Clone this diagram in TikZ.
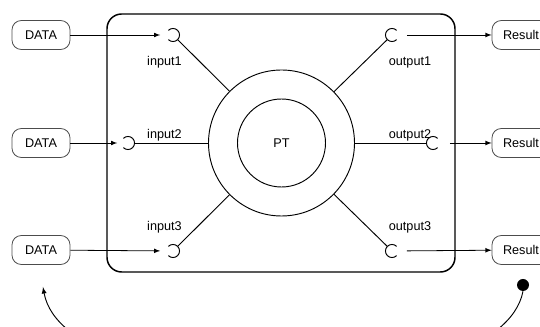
\documentclass[tikz,border=0pt]{standalone}
\usepackage{fontspec}
\setmainfont{Liberation Sans}
\usetikzlibrary{shapes,arrows,positioning}

\begin{document}
\begin{tikzpicture}[x=0.75pt, y=-0.75pt, >=latex, font=\fontsize{9.5}{11}\selectfont,
	box/.style={rectangle, rounded corners=7pt, draw=black!70, line width=0.6pt, minimum width=43.5pt, minimum height=21.75pt, inner sep=0pt},
	socket/.style={circle, minimum size=9.8pt, inner sep=0pt},
	feed/.style={->, line width=0.6pt, shorten >=4.5pt},
	spoke/.style={line width=0.7pt},
	plug/.style={line width=0.7pt}]
	\useasboundingbox (0,0) rectangle (540,327);
	% frame
	\draw[line width=1.1pt, rounded corners=11pt] (107,14) rectangle (455,272);
	\node[circle, draw, line width=0.7pt, minimum size=109.5pt] (ring) at (281.5,143) {};
	\node[circle, draw, line width=0.7pt, minimum size=66pt] (pt) at (281.5,143) {PT};
	
	\node[box] (d1) at (41,35)  {DATA};
	\node[box] (d2) at (41,143) {DATA};
	\node[box] (d3) at (41,250) {DATA};
	\node[box] (r1) at (521,35)  {Result};
	\node[box] (r2) at (521,143) {Result};
	\node[box] (r3) at (521,250) {Result};
	
	\node[socket] (in1) at (173,35)  {};
	\node[socket] (in2) at (128,143) {};
	\node[socket] (in3) at (173,251) {};
	\node[socket] (out1) at (392,35)  {};
	\node[socket] (out2) at (433,143) {};
	\node[socket] (out3) at (392,251) {};
	
	\node (lin1) at (164.5,62)  {input1};
	\node (lin2) at (164.5,135) {input2};
	\node (lin3) at (164.5,227) {input3};
	\node (lout1) at (410,62)  {output1};
	\node (lout2) at (410,135) {output2};
	\node (lout3) at (410,227) {output3};
	
	\foreach \s in {in1,in2,in3}
		\draw[plug] ([shift={(135:4.9pt)}]\s.center) arc[start angle=135, end angle=-135, radius=4.9pt];
	\foreach \s in {out1,out2,out3}
		\draw[plug] ([shift={(45:4.9pt)}]\s.center) arc[start angle=45, end angle=315, radius=4.9pt];
	
	\foreach \s in {in1,in2,in3,out1,out2,out3}
		\draw[spoke] (\s) -- (ring);
	
	\draw[feed] (d1) -- (in1);
	\draw[feed, shorten >=3pt] (d2) -- (in2);
	\draw[feed] (d3) -- (in3);
	\draw[feed, shorten <=6pt, shorten >=0pt] (out1) -- (r1);
	\draw[feed, shorten <=7.5pt, shorten >=0pt] (out2) -- (r2);
	\draw[feed, shorten <=6pt, shorten >=0pt] (out3) -- (r3);
	
	% loop back
	\node[circle, fill, minimum size=9pt, inner sep=0pt] (dot) at (523,285) {};
	\coordinate (back) at (43,287);
	\draw[->, line width=0.7pt] (dot.south) .. controls (500,410) and (65,410) .. (back);
\end{tikzpicture}
\end{document}
